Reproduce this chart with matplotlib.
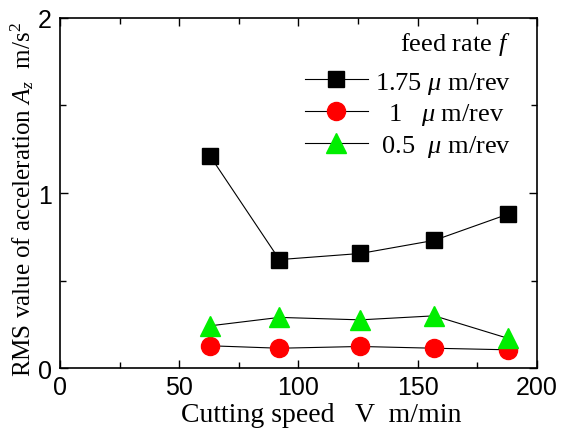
import matplotlib.pyplot as plt
from matplotlib.ticker import MultipleLocator

#
# Data
#

speed = [63, 92, 126, 157, 188]                                     # Cutting speed V (m/min)
rms_175 = [1.21, 0.62, 0.655, 0.73, 0.88]                           # f = 1.75 um/rev
rms_1 = [0.128, 0.114, 0.124, 0.114, 0.105]                         # f = 1 um/rev
rms_05 = [0.242, 0.29, 0.276, 0.299, 0.17]                          # f = 0.5 um/rev
labels = ["1.75 $\\mu$ m/rev", "  1   $\\mu$ m/rev", " 0.5  $\\mu$ m/rev"]

plt.rcParams['mathtext.fontset'] = 'custom'
plt.rcParams['mathtext.rm'] = 'Liberation Serif'
plt.rcParams['mathtext.it'] = 'Liberation Serif:italic'

fig, ax = plt.subplots(figsize=(5.61, 4.39), dpi=100)
fig.subplots_adjust(left=0.107, right=0.957, top=0.957, bottom=0.159)

ax.plot(speed, rms_175, color="black", lw=0.8, marker="s", ms=12, mfc="black", mec="black", label=labels[0])
ax.plot(speed, rms_1, color="black", lw=0.8, marker="o", ms=13, mfc="red", mec="red", label=labels[1])
ax.plot(speed, rms_05, color="black", lw=0.8, marker="^", ms=14, mfc="#00ee00", mec="#00ee00", label=labels[2])

ax.set_xlim(0, 200)
ax.set_ylim(0, 2)
ax.xaxis.set_major_locator(MultipleLocator(50))
ax.xaxis.set_minor_locator(MultipleLocator(25))
ax.yaxis.set_major_locator(MultipleLocator(1))
ax.yaxis.set_minor_locator(MultipleLocator(0.5))
ax.tick_params(which="both", direction="in", top=True, right=True, labelsize=18, width=1)
ax.tick_params(which="major", length=6)
ax.tick_params(which="minor", length=4)
ax.tick_params(axis="x", pad=5)
ax.tick_params(axis="y", pad=6)
[ax.spines[i].set_linewidth(1.2) for i in ax.spines]
for t in ax.get_xticklabels() + ax.get_yticklabels():
    t.set_fontfamily("Liberation Sans")

ax.set_xlabel("Cutting speed   V  m/min", fontfamily="Liberation Serif", fontsize=20, labelpad=2)
ax.xaxis.label.set_x(0.548)                                         # Label sits right of centre
ax.set_ylabel("RMS value of acceleration $\\it{A_z}$  m/s$^2$", fontfamily="Liberation Serif", fontsize=18, labelpad=1)
ax.yaxis.label.set_y(0.485)

leg = ax.legend(loc="upper right", bbox_to_anchor=(0.945, 0.965), frameon=False, title="feed rate $\\it{f}$",
                prop={"family": "Liberation Serif", "size": 19}, handlelength=2.4,
                borderpad=0, borderaxespad=0, labelspacing=0.22, handletextpad=0.25)
leg.get_title().set_fontfamily("Liberation Serif")
leg.get_title().set_fontsize(19)
leg._legend_box.align = "right"
leg._legend_box.sep = 9                                             # Extra gap below the title

plt.savefig("out.png")
